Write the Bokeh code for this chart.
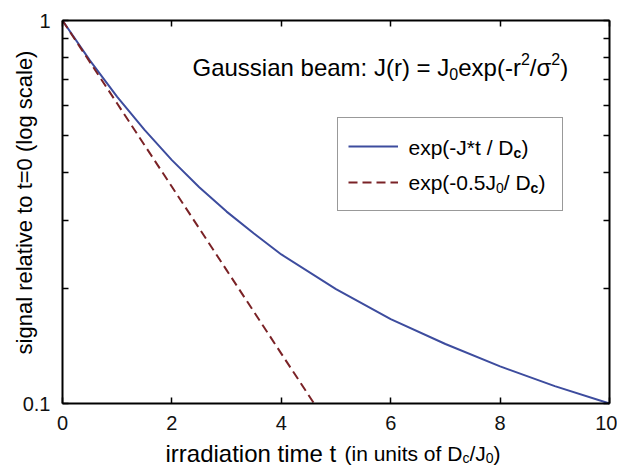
import math
from bokeh.plotting import figure
from bokeh.models import (Range1d, FixedTicker, LinearAxis, LogAxis, Label, Legend,
                          LegendItem, BasicTickFormatter)
from bokeh.embed import file_html
from bokeh.resources import INLINE

# ---- data ----
t_gauss = [0, 0.5, 1, 1.5, 2, 2.5, 3, 3.5, 4, 5, 6, 7, 8, 9, 10]
s_gauss = [1.0, 0.787, 0.632, 0.518, 0.432, 0.367, 0.317, 0.278, 0.245,
           0.199, 0.166, 0.143, 0.125, 0.111, 0.100]
t_flat = [0, 1, 2, 3, 4, 4.6]
s_flat = [1.0, 0.607, 0.368, 0.223, 0.135, 0.100]

x_lim = (0, 10)
y_lim = (0.1, 1)
x_ticks = [0, 2, 4, 6, 8, 10]
y_major = [0.1, 1]
y_minor = [0.2, 0.3, 0.4, 0.5, 0.6, 0.7, 0.8, 0.9]
y_labels = {0.1: "0.1", 1: "1"}

BLUE = "#3d4c9e"
RED = "#7a2226"
FONT = "Liberation Sans"

# ---- layout: the chart box sits at these canvas pixels ----
W, H = 617, 468
BL, BT, BR, BB = 62, 20, 609, 403
ppx = (BR - BL) / (x_lim[1] - x_lim[0])
ppd = (BB - BT) / (math.log10(y_lim[1]) - math.log10(y_lim[0]))
xr = Range1d(x_lim[0] - BL / ppx, x_lim[1] + (W - BR) / ppx)
yr = Range1d(10 ** (math.log10(y_lim[0]) - (H - BB) / ppd),
             10 ** (math.log10(y_lim[1]) + BT / ppd))

p = figure(width=W, height=H, x_range=xr, y_range=yr, y_axis_type="log",
           x_axis_location=None, y_axis_location=None,
           output_backend="svg", toolbar_location=None,
           min_border_left=0, min_border_right=0, min_border_top=0, min_border_bottom=0)
p.xgrid.visible = False
p.ygrid.visible = False
p.outline_line_color = None
p.background_fill_color = "white"
p.border_fill_color = "white"

r1 = p.line(t_gauss, s_gauss, line_color=BLUE, line_width=2)
r2 = p.line(t_flat, s_flat, line_color=RED, line_width=2, line_dash="9 5")

def style_axis(ax, show_labels=True):
    ax.axis_line_width = 2
    ax.axis_line_color = "black"
    ax.major_tick_in = 6
    ax.major_tick_out = 0
    ax.minor_tick_in = 6
    ax.minor_tick_out = 0
    ax.major_tick_line_width = 1.5
    ax.minor_tick_line_width = 1.5
    ax.major_tick_line_color = "black"
    ax.minor_tick_line_color = "black"
    if show_labels:
        ax.major_label_text_font = FONT
        ax.major_label_text_font_size = "20px"
        ax.major_label_text_color = "#111111"
        ax.major_label_standoff = 12
    else:
        ax.major_label_text_font_size = "1px"
        ax.major_label_text_color = None
        ax.major_label_standoff = 0

bottom = LinearAxis(ticker=FixedTicker(ticks=x_ticks), fixed_location=y_lim[0], bounds=x_lim)
style_axis(bottom)
p.add_layout(bottom, "below")
top = LinearAxis(ticker=FixedTicker(ticks=x_ticks), fixed_location=y_lim[1], bounds=x_lim)
style_axis(top, False)
p.add_layout(top, "above")
left = LogAxis(ticker=FixedTicker(ticks=y_major, minor_ticks=y_minor),
               fixed_location=x_lim[0], bounds=y_lim, formatter=BasicTickFormatter())
left.major_label_overrides = y_labels
style_axis(left)
p.add_layout(left, "left")
right = LogAxis(ticker=FixedTicker(ticks=y_major, minor_ticks=y_minor),
                fixed_location=x_lim[1], bounds=y_lim)
style_axis(right, False)
p.add_layout(right, "right")

legend = Legend(items=[LegendItem(label=" ", renderers=[r1]),
                       LegendItem(label="  ", renderers=[r2])],
                location=(337, H - 211), glyph_width=50, glyph_height=36, label_height=36,
                label_width=143, label_standoff=11, padding=10, spacing=0, margin=0,
                border_line_color="#333333", border_line_width=1,
                background_fill_color="white", background_fill_alpha=0,
                label_text_font=FONT, label_text_font_size="21px")
p.add_layout(legend)

DY = -6  # baseline correction for rendered labels

def lab(px, py, text, size, bold=False, color="black", angle=0, align="left",
        baseline="alphabetic", dy=DY):
    p.add_layout(Label(x=px, y=H - (py + dy), x_units="screen", y_units="screen", text=text,
                       text_font=FONT, text_font_size=f"{size}px",
                       text_font_style="bold" if bold else "normal", text_color=color,
                       angle=angle, text_align=align, text_baseline=baseline))

# legend texts
lab(408, 153, "exp(-J*t / D", 21)
lab(513, 158, "c", 14, bold=True)
lab(521, 153, ")", 21)
lab(408, 188, "exp(-0.5J", 21)
lab(495.5, 193, "0", 14)
lab(503.3, 188, "/ D", 21)
lab(530.1, 193, "c", 14, bold=True)
lab(537.9, 188, ")", 21)

# annotation
lab(192, 73, "Gaussian beam: J(r) = J", 24)
lab(448.8, 79, "0", 16)
lab(457.7, 73, "exp(-r", 24)
lab(520.4, 64, "2", 16)
lab(529.3, 73, "/\u03c3", 24)
lab(550.8, 64, "2", 16)
lab(559.7, 73, ")", 24)

# y axis title
lab(24, 204, "signal relative to t=0 (log scale)", 22, angle=math.pi / 2,
    align="center", baseline="middle", dy=-2)

# x axis title
lab(165, 459, "irradiation time t", 24)
lab(344, 459, "(in units of D", 21)
lab(462, 463, "c", 14)
lab(469, 459, "/J", 21)
lab(485.3, 463, "0", 14)
lab(493, 459, ")", 21)

open("out.html", "w").write(file_html(p, INLINE))
